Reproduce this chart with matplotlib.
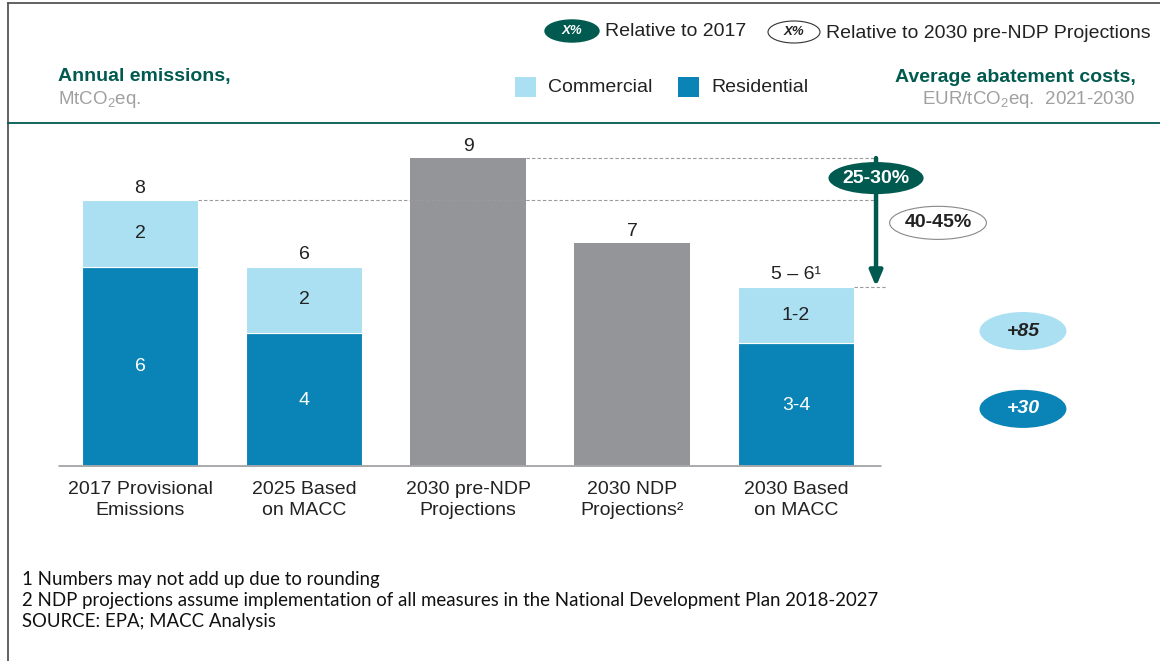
import numpy as np
import matplotlib
matplotlib.use("Agg")
import matplotlib.pyplot as plt
from matplotlib.patches import Ellipse, Rectangle
from matplotlib.lines import Line2D

plt.rcParams['font.family'] = ['Liberation Sans', 'DejaVu Sans']
plt.rcParams['mathtext.default'] = 'regular'

# data
categories = ["2017 Provisional\nEmissions", "2025 Based\non MACC", "2030 pre-NDP\nProjections",
              "2030 NDP\nProjections²", "2030 Based\non MACC"]
residential = np.array([6.0, 4.0, 0.0, 0.0, 3.7])
commercial = np.array([2.0, 2.0, 0.0, 0.0, 1.7])
projection = np.array([0.0, 0.0, 9.25, 6.7, 0.0])
res_labels = ["6", "4", "", "", "3-4"]
com_labels = ["2", "2", "", "", "1-2"]
total_labels = ["8", "6", "9", "7", "5 – 6¹"]
rel_2017 = "25-30%"
rel_prendp = "40-45%"
cost_commercial = "+85"
cost_residential = "+30"

BLUE = "#0a84b6"
LIGHT = "#abdff2"
GRAY = "#939598"
TEAL = "#005a4f"
DARK = "#222222"
FS = 14

W, H = 1160, 661
fig = plt.figure(figsize=(W / 100, H / 100), dpi=100)

def fx(px):
    return px / W

def fy(py):
    return 1 - py / H

# frame lines
fig.add_artist(Line2D([fx(8), fx(8)], [0, fy(3)], color="#555555", lw=1.3))
fig.add_artist(Line2D([fx(8), 1], [fy(3), fy(3)], color="#555555", lw=1.3))
fig.add_artist(Line2D([fx(8), 1], [fy(123), fy(123)], color=TEAL, lw=1.3))

# headers
fig.text(fx(58), fy(77), "Annual emissions,", color=TEAL, fontsize=FS, fontweight="bold", va="center")
fig.text(fx(58), fy(100), "MtCO$_2$eq.", color="#a0a0a0", fontsize=13.5, va="center")
fig.text(fx(1136), fy(77), "Average abatement costs,", color=TEAL, fontsize=FS, fontweight="bold",
         va="center", ha="right")
fig.text(fx(1136), fy(100), "EUR/tCO$_2$eq.  2021-2030", color="#a0a0a0", fontsize=13.5,
         va="center", ha="right")

# top legend (ellipses)
fig.add_artist(Ellipse((fx(572), fy(31)), 54 / W, 22 / H, facecolor=TEAL, edgecolor=TEAL))
fig.text(fx(572), fy(31), "X%", color="white", fontsize=9.5, fontstyle="italic", fontweight="bold",
         ha="center", va="center")
fig.text(fx(605), fy(32), "Relative to 2017", color=DARK, fontsize=FS, va="center")
fig.add_artist(Ellipse((fx(794), fy(32)), 52 / W, 22 / H, facecolor="white", edgecolor="#333333", lw=0.8))
fig.text(fx(794), fy(32), "X%", color=DARK, fontsize=9.5, fontstyle="italic", fontweight="bold",
         ha="center", va="center")
fig.text(fx(826), fy(33), "Relative to 2030 pre-NDP Projections", color=DARK, fontsize=FS, va="center")

# segment legend
fig.add_artist(Rectangle((fx(515), fy(97)), 21 / W, 20 / H, facecolor=LIGHT, edgecolor="none"))
fig.text(fx(548), fy(87), "Commercial", color=DARK, fontsize=FS, va="center")
fig.add_artist(Rectangle((fx(678), fy(97)), 21 / W, 20 / H, facecolor=BLUE, edgecolor="none"))
fig.text(fx(711), fy(87), "Residential", color=DARK, fontsize=FS, va="center")

# main axes: 164 px per category, 33.4 px per MtCO2eq
ax = fig.add_axes([fx(58), fy(467), fx(1160) - fx(58), fy(130) - fy(467)])
ax.set_xlim((58 - 140) / 164, (1160 - 140) / 164)
ax.set_ylim(0, (467 - 130) / 33.4)
ax.axis("off")

x = np.arange(len(categories))
bw = 0.707
ax.bar(x, residential, bw, color=BLUE, edgecolor="white", linewidth=0.8)
ax.bar(x, commercial, bw, bottom=residential, color=LIGHT, edgecolor="white", linewidth=0.8)
ax.bar(x, projection, bw, color=GRAY, edgecolor="none")
ax.hlines(0, -0.5, 4.52, color="#a7a9ac", lw=3.5)

totals = residential + commercial + projection
for i in range(len(categories)):
    if res_labels[i]:
        ax.text(x[i], residential[i] / 2, res_labels[i], color="white", fontsize=FS, ha="center", va="center")
    if com_labels[i]:
        ax.text(x[i], residential[i] + commercial[i] / 2, com_labels[i], color=DARK, fontsize=FS,
                ha="center", va="center")
    ax.text(x[i], totals[i] + 0.35, total_labels[i], color=DARK, fontsize=FS, ha="center", va="center")
    ax.text(x[i], -0.42, categories[i], color=DARK, fontsize=FS, ha="center", va="top",
            linespacing=1.32, clip_on=False)

# reference lines and arrow
arrow_x = 4.488
ax.hlines(totals[0], x[0] + bw / 2, arrow_x, colors="#9a9a9a", linestyles=(0, (3, 2)), lw=0.8)
ax.hlines(totals[2], x[2] + bw / 2, arrow_x, colors="#9a9a9a", linestyles=(0, (3, 2)), lw=0.8)
ax.hlines(totals[4], x[4] + bw / 2, arrow_x + 0.06, colors="#9a9a9a", linestyles=(0, (3, 2)), lw=0.8)
ax.annotate("", xy=(arrow_x, totals[4]), xytext=(arrow_x, totals[2]),
            arrowprops=dict(arrowstyle="-|>,head_length=0.9,head_width=0.38", color=TEAL, lw=3.2,
                            shrinkA=0, shrinkB=0))

ax.add_patch(Ellipse((arrow_x, 8.65), 0.58, 0.96, facecolor=TEAL, edgecolor="none", zorder=5))
ax.text(arrow_x, 8.65, rel_2017, color="white", fontsize=FS, fontweight="bold", ha="center",
        va="center", zorder=6)
ax.add_patch(Ellipse((4.866, 7.31), 0.59, 0.99, facecolor="white", edgecolor="#888888", lw=0.8, zorder=5))
ax.text(4.866, 7.31, rel_prendp, color=DARK, fontsize=FS, fontweight="bold", ha="center",
        va="center", zorder=6)

# abatement costs
ax.add_patch(Ellipse((5.384, 4.07), 0.53, 1.14, facecolor=LIGHT, edgecolor="none"))
ax.text(5.384, 4.07, cost_commercial, color=DARK, fontsize=14, fontweight="bold", fontstyle="italic",
        ha="center", va="center")
ax.add_patch(Ellipse((5.384, 1.74), 0.53, 1.14, facecolor=BLUE, edgecolor="none"))
ax.text(5.384, 1.74, cost_residential, color="white", fontsize=14, fontweight="bold", fontstyle="italic",
        ha="center", va="center")

# footnotes
notes = ["1 Numbers may not add up due to rounding",
         "2 NDP projections assume implementation of all measures in the National Development Plan 2018-2027",
         "SOURCE: EPA; MACC Analysis"]
for k, note in enumerate(notes):
    fig.text(fx(22), fy(579 + 21.5 * k), note, color="#111111", fontsize=13.4, family=["Lato", "DejaVu Sans"],
             va="center")

fig.savefig("out.png", dpi=100)
